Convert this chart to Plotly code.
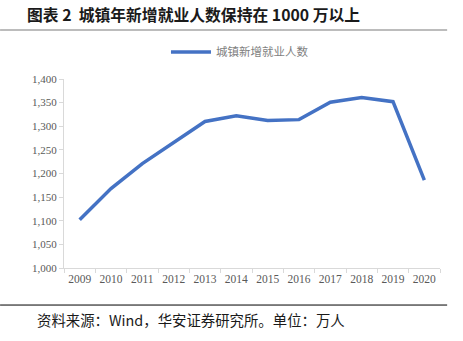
import plotly.graph_objects as go

years = ["2009","2010","2011","2012","2013","2014","2015","2016","2017","2018","2019","2020"]
values = [1102, 1168, 1221, 1266, 1310, 1322, 1312, 1314, 1351, 1361, 1352, 1186]
series_name = "城镇新增就业人数"
title_text = "图表 2  城镇年新增就业人数保持在 1000 万以上"
source_text = "资料来源：Wind，华安证券研究所。单位：万人"

fig = go.Figure()
fig.add_trace(go.Scatter(x=years, y=values, mode="lines", name=series_name,
                         line=dict(color="#4472C4", width=3.5)))

fig.update_layout(
    width=463, height=341,
    margin=dict(l=64, r=23, t=79, b=73),
    paper_bgcolor="white", plot_bgcolor="white",
    font=dict(family="Noto Sans CJK SC, Liberation Serif", size=11, color="#595959"),
    showlegend=True,
    legend=dict(orientation="h", x=0.468, xanchor="center", y=1.143, yanchor="middle",
                font=dict(size=11.5, color="#7f7f7f", family="Noto Sans CJK SC"),
                itemwidth=40),
    xaxis=dict(type="category", range=[-0.5, 11.5], showline=True, linecolor="#d9d9d9", linewidth=1,
               ticks="outside", tickcolor="#d9d9d9", ticklen=4, tickson="boundaries",
               tickangle=0,
               tickfont=dict(family="Liberation Serif", size=11.5, color="#595959"),
               showgrid=False),
    yaxis=dict(range=[1000, 1400], dtick=50, tickformat=",", showline=True,
               linecolor="#d9d9d9", linewidth=1, ticks="outside", tickcolor="#d9d9d9",
               ticklen=4, showgrid=False, zeroline=False,
               tickfont=dict(family="Liberation Serif", size=11, color="#595959")),
)

fig.add_annotation(text="<b>" + title_text + "</b>", xref="paper", yref="paper",
                   x=-0.104, y=1.339, xanchor="left", yanchor="middle",
                   showarrow=False,
                   font=dict(size=15.8, color="#1a1a1a", family="Noto Sans CJK SC"))
fig.add_shape(type="line", xref="paper", yref="paper", x0=-0.170, x1=1.019,
              y0=1.259, y1=1.259, line=dict(color="#a6a6a6", width=1.5))
fig.add_shape(type="line", xref="paper", yref="paper", x0=-0.170, x1=1.019,
              y0=-0.196, y1=-0.196, line=dict(color="#000000", width=1))
fig.add_annotation(text=source_text, xref="paper", yref="paper",
                   x=-0.077, y=-0.275, xanchor="left", yanchor="middle",
                   showarrow=False,
                   font=dict(size=14.4, color="#1a1a1a", family="Noto Sans CJK SC"))

fig.write_html("out.html")
